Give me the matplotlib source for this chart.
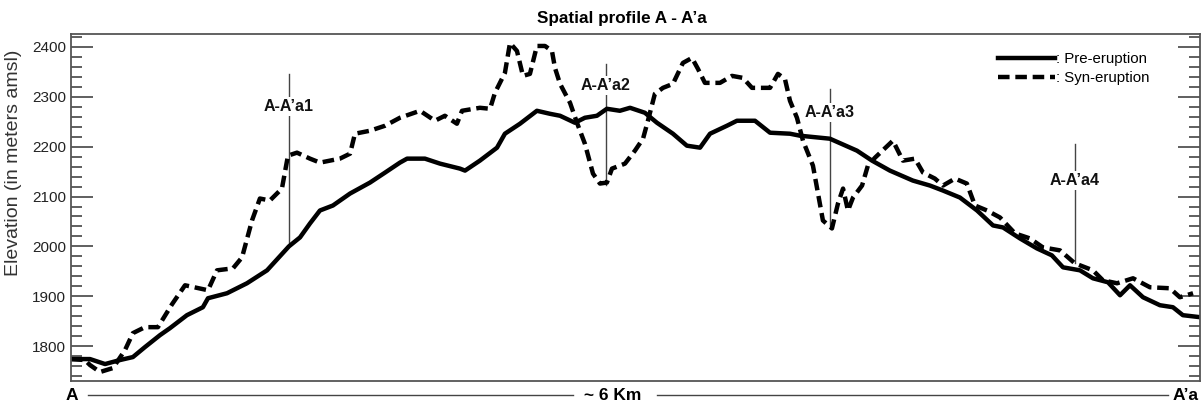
import matplotlib.pyplot as plt
from matplotlib.lines import Line2D

plt.rcParams['font.family'] = ['Liberation Sans', 'DejaVu Sans']

# distance along the profile (m) and elevation (m amsl)
pre_dist = [0, 48, 101, 181, 260, 329, 393, 473, 526, 616, 701, 728, 829, 935,
            1042, 1158, 1217, 1270, 1323, 1392, 1483, 1589, 1669, 1748, 1786,
            1881, 1961, 2067, 2094, 2173, 2264, 2306, 2386, 2476, 2545, 2599,
            2678, 2731, 2795, 2848, 2917, 2971, 3050, 3114, 3199, 3273, 3343,
            3396, 3486, 3539, 3635, 3715, 3821, 3874, 4033, 4177, 4257, 4352,
            4474, 4565, 4634, 4724, 4815, 4900, 4953, 5043, 5133, 5213, 5272,
            5362, 5431, 5511, 5575, 5628, 5697, 5787, 5856, 5909, 6000]
pre_elev = [1774, 1774, 1774, 1764, 1772, 1778, 1798, 1822, 1836, 1862, 1878,
            1896, 1906, 1926, 1952, 2000, 2018, 2046, 2072, 2082, 2106, 2128,
            2148, 2168, 2176, 2176, 2166, 2156, 2152, 2172, 2198, 2226, 2246,
            2272, 2266, 2262, 2248, 2258, 2262, 2276, 2272, 2278, 2268, 2248,
            2226, 2202, 2198, 2226, 2242, 2252, 2252, 2228, 2226, 2222, 2216,
            2192, 2172, 2152, 2132, 2122, 2112, 2098, 2072, 2042, 2038, 2016,
            1996, 1982, 1958, 1952, 1936, 1928, 1902, 1922, 1898, 1882, 1878,
            1862, 1858]

syn_dist = [0, 74, 101, 154, 223, 287, 329, 393, 462, 537, 606, 728, 776, 861,
            909, 962, 1004, 1057, 1121, 1153, 1201, 1270, 1323, 1429, 1483,
            1509, 1589, 1669, 1748, 1855, 1934, 1987, 2051, 2078, 2173, 2227,
            2253, 2306, 2333, 2370, 2402, 2439, 2476, 2519, 2556, 2572, 2599,
            2652, 2689, 2731, 2774, 2811, 2848, 2875, 2944, 2997, 3040, 3066,
            3103, 3146, 3199, 3252, 3300, 3332, 3369, 3449, 3513, 3571, 3619,
            3715, 3757, 3794, 3821, 3858, 3890, 3943, 3970, 3996, 4044, 4076,
            4103, 4129, 4156, 4204, 4235, 4273, 4368, 4421, 4485, 4528, 4591,
            4634, 4698, 4761, 4804, 4868, 4937, 5017, 5096, 5165, 5256, 5335,
            5431, 5484, 5559, 5644, 5734, 5840, 5893, 5963]
syn_elev = [1774, 1772, 1762, 1748, 1756, 1792, 1826, 1838, 1838, 1884, 1922,
            1912, 1952, 1956, 1978, 2052, 2096, 2092, 2116, 2182, 2188, 2176,
            2168, 2176, 2186, 2226, 2232, 2242, 2258, 2272, 2252, 2262, 2246,
            2272, 2278, 2276, 2308, 2348, 2408, 2392, 2342, 2346, 2402, 2402,
            2392, 2358, 2326, 2288, 2248, 2206, 2146, 2126, 2128, 2156, 2166,
            2192, 2216, 2252, 2306, 2318, 2326, 2368, 2378, 2356, 2328, 2328,
            2342, 2338, 2318, 2318, 2346, 2336, 2292, 2258, 2212, 2162, 2106,
            2052, 2036, 2086, 2116, 2072, 2098, 2122, 2162, 2178, 2212, 2172,
            2176, 2148, 2136, 2122, 2136, 2126, 2082, 2072, 2058, 2026, 2016,
            1998, 1992, 1966, 1952, 1932, 1926, 1936, 1918, 1916, 1898, 1906]

# sample points: name, position, line top, label height, line bottom
mark_names = ["A-A\u2019a1", "A-A\u2019a2", "A-A\u2019a3", "A-A\u2019a4"]
mark_dist = [1158, 2843, 4033, 5335]
mark_top = [2346, 2366, 2316, 2206]
mark_label = [2280, 2322, 2268, 2132]
mark_bottom = [2000, 2124, 2040, 1966]

fig = plt.figure(figsize=(12.04, 4.03), dpi=100)
ax = fig.add_axes([71 / 1204, 22 / 403, 1129 / 1204, 347 / 403])

ax.plot(pre_dist, pre_elev, color='black', lw=3.2, solid_joinstyle='round',
        label=': Pre-eruption')
ax.plot(syn_dist, syn_elev, color='black', lw=3.2, linestyle=(0, (2.6, 1.3)),
        label=': Syn-eruption')

for name, d, top, lab, bot in zip(mark_names, mark_dist, mark_top, mark_label, mark_bottom):
    ax.plot([d, d], [top, bot], color='#444444', lw=1.0, zorder=1)
    ax.text(d, lab, name, ha='center', va='center', fontsize=11.5,
            fontweight='bold', color='#111111', zorder=3,
            bbox=dict(facecolor='white', edgecolor='none', pad=1.5))

ax.set_xlim(0, 6000)
ax.set_ylim(1730, 2426)
ax.set_xticks([])
ax.set_yticks([1800, 1900, 2000, 2100, 2200, 2300, 2400])
ax.set_yticks(range(1740, 2426, 20), minor=True)
ax.tick_params(axis='y', which='both', direction='in', right=True,
               labelsize=11, colors='#444444', labelcolor='#222222')
ax.tick_params(axis='y', which='major', length=16, width=1.2)
ax.tick_params(axis='y', which='minor', length=8, width=1.2)
for sp in ax.spines.values():
    sp.set_color('#555555')
    sp.set_linewidth(1.3)
ax.set_ylabel('Elevation (in meters amsl)', fontsize=14, color='#333333')
ax.yaxis.set_label_coords(-0.043, 0.63)

fig.text(622 / 1204, 1 - 19 / 403, 'Spatial profile A - A\u2019a', fontsize=12.3,
         fontweight='bold', ha='center', va='center')

ax.legend(loc='upper left', bbox_to_anchor=(0.821, 0.948), frameon=False,
          fontsize=10.8, handlelength=3.8, handletextpad=0.1,
          labelspacing=0.35, borderpad=0, borderaxespad=0)

# distance bar under the axes
fig.text(72 / 1204, 1 - 396 / 403, 'A', fontsize=12.5, fontweight='bold',
         ha='center', va='center')
fig.text(1186 / 1204, 1 - 396 / 403, 'A\u2019a', fontsize=12.5,
         fontweight='bold', ha='center', va='center')
fig.text(613 / 1204, 1 - 396 / 403, '~ 6 Km', fontsize=12.5,
         fontweight='bold', ha='center', va='center')
ybar = 1 - 395 / 403
fig.add_artist(Line2D([88 / 1204, 573 / 1204], [ybar, ybar], color='#444444', lw=1.0))
fig.add_artist(Line2D([657 / 1204, 1168 / 1204], [ybar, ybar], color='#444444', lw=1.0))

fig.savefig('out.png', dpi=100)
